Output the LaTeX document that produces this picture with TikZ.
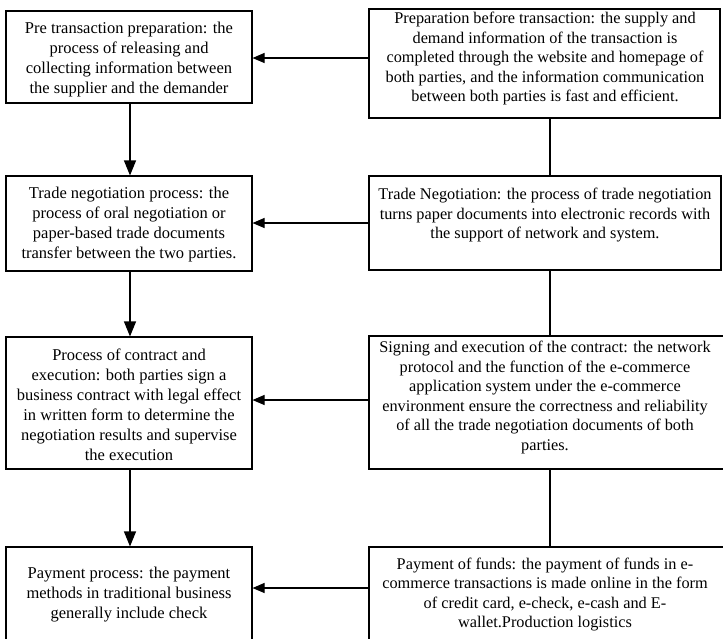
\documentclass[tikz,border=0pt]{standalone}
\usepackage{fontspec}
\setmainfont{Liberation Serif}
\usetikzlibrary{arrows.meta}
\begin{document}
\begin{tikzpicture}[x=1pt,y=-1pt,
  box/.style={draw, line width=1.1pt, inner sep=0pt},
  txt/.style={align=center, inner sep=0pt, font=\fontsize{16.5}{20}\selectfont},
  rtxt/.style={align=center, inner sep=0pt, font=\fontsize{16.3}{19.5}\selectfont},
  conn/.style={line width=1.1pt},
  varr/.style={line width=1.1pt, -{Triangle[length=15pt,width=12pt]}},
  harr/.style={line width=1.1pt, -{Triangle[length=12pt,width=10pt]}}]
\useasboundingbox (0,0) rectangle (723,638);
\clip (0,0) rectangle (723,638);
% boxes
\node[box, minimum width=246pt, minimum height=92pt]  (L1) at (129,57) {};
\node[box, minimum width=246pt, minimum height=95pt]  (L2) at (129,223.5) {};
\node[box, minimum width=246pt, minimum height=132pt] (L3) at (129,403) {};
\node[box, minimum width=246pt, minimum height=93pt]  (L4) at (129,593.5) {};
\node[box, minimum width=351pt, minimum height=109pt] (R1) at (544.5,63.5) {};
\node[box, minimum width=352pt, minimum height=94pt]  (R2) at (545,223) {};
\node[box, minimum width=355pt, minimum height=133pt] (R3) at (546.5,402.5) {};
\node[box, minimum width=355pt, minimum height=93pt]  (R4) at (546.5,593.5) {};
% texts
\node[txt] (L1t) at (129,59.5) {Pre transaction preparation: the\\process of releasing and\\collecting information between\\the supplier and the demander};
\node[txt] (L2t) at (129,224.5) {Trade negotiation process: the\\process of oral negotiation or\\paper-based trade documents\\transfer between the two parties.};
\node[txt] (L3t) at (129,404.5) {Process of contract and\\execution: both parties sign a\\business contract with legal effect\\in written form to determine the\\negotiation results and supervise\\the execution};
\node[txt] (L4t) at (129,594.5) {Payment process: the payment\\methods in traditional business\\generally include check};
\node[rtxt] (R1t) at (545,58.5) {Preparation before transaction: the supply and\\demand information of the transaction is\\completed through the website and homepage of\\both parties, and the information communication\\between both parties is fast and efficient.};
\node[rtxt] (R2t) at (545,215.5) {Trade Negotiation: the process of trade negotiation\\turns paper documents into electronic records with\\the support of network and system.};
\node[rtxt] (R3t) at (545,397.5) {Signing and execution of the contract: the network\\protocol and the function of the e-commerce\\application system under the e-commerce\\environment ensure the correctness and reliability\\of all the trade negotiation documents of both\\parties.};
\node[rtxt] (R4t) at (545,594.5) {Payment of funds: the payment of funds in e-\\commerce transactions is made online in the form\\of credit card, e-check, e-cash and E-\\wallet.Production logistics};
% helper coordinates
\coordinate (lx) at (130,0);
\coordinate (rx) at (550,0);
\coordinate (h1) at (0,58);
\coordinate (h2) at (0,223);
\coordinate (h3) at (0,400);
\coordinate (h4) at (0,588);
% left vertical arrows
\draw[varr] (L1.south -| lx) -- (L2.north -| lx);
\draw[varr] (L2.south -| lx) -- (L3.north -| lx);
\draw[varr] (L3.south -| lx) -- (L4.north -| lx);
% right vertical lines
\draw[conn] (R1.south -| rx) -- (R2.north -| rx);
\draw[conn] (R2.south -| rx) -- (R3.north -| rx);
\draw[conn] (R3.south -| rx) -- (R4.north -| rx);
% horizontal arrows
\draw[harr] (R1.west |- h1) -- (L1.east |- h1);
\draw[harr] (R2.west |- h2) -- (L2.east |- h2);
\draw[harr] (R3.west |- h3) -- (L3.east |- h3);
\draw[harr] (R4.west |- h4) -- (L4.east |- h4);
\end{tikzpicture}
\end{document}
